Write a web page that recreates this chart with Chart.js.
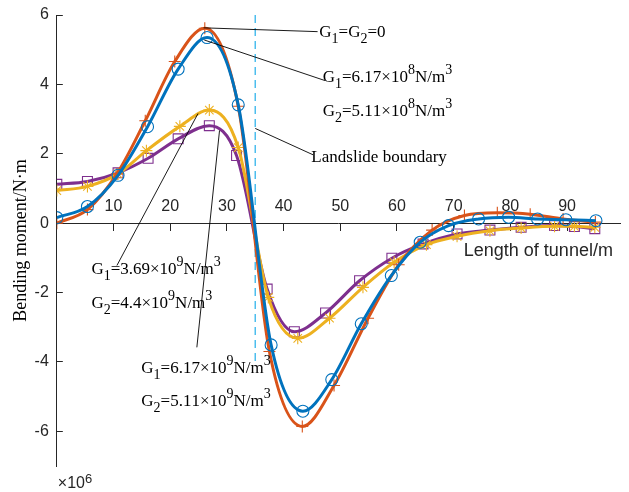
<!DOCTYPE html>
<html><head><meta charset="utf-8">
<script src="https://cdn.jsdelivr.net/npm/chart.js@4/dist/chart.umd.min.js"></script>
<style>html,body{margin:0;padding:0;background:#fff;}#wrap{width:629px;height:492px;position:relative;}</style>
</head><body><div id="wrap"><canvas id="c"></canvas></div>
<script>
// ---- data ----
const xTickValues = [10, 20, 30, 40, 50, 60, 70, 80, 90];
const yTickValues = [-6, -4, -2, 0, 2, 4, 6];

// G1=6.17e8, G2=5.11e8 (blue, circles)
const blueX = [0, 5.4, 10.8, 16.0, 21.4, 26.5, 32.0, 37.8, 43.4, 48.5, 53.7, 59.0, 64.1, 69.1, 74.4, 79.7, 84.8, 89.8, 95.1];
const blueY = [0.16, 0.48, 1.38, 2.78, 4.44, 5.35, 3.41, -3.51, -5.42, -4.51, -2.9, -1.51, -0.55, -0.07, 0.12, 0.17, 0.12, 0.10, 0.07];
// G1=G2=0 (orange, plus)
const orangeX = [0, 5.4, 10.6, 15.6, 20.8, 26.1, 32.0, 37.5, 43.3, 48.9, 54.9, 60.3, 66.2, 71.9, 77.7, 83.5, 89.3, 95.0];
const orangeY = [0.0, 0.39, 1.42, 2.95, 4.66, 5.62, 3.37, -3.7, -5.86, -4.68, -2.74, -1.2, -0.2, 0.22, 0.3, 0.26, 0.12, 0.03];
// G1=3.69e9, G2=4.4e9 (yellow, stars)
const yellowX = [0, 5.4, 10.8, 15.8, 21.7, 26.9, 32.0, 37.3, 42.5, 48.1, 54.0, 59.5, 65.2, 70.6, 76.4, 81.9, 87.8, 91.3, 94.9];
const yellowY = [0.94, 1.06, 1.42, 2.09, 2.79, 3.26, 2.18, -2.14, -3.32, -2.74, -1.85, -1.13, -0.62, -0.38, -0.22, -0.14, -0.09, -0.09, -0.12];
// G1=6.17e9, G2=5.11e9 (purple, squares)
const purpleX = [0, 5.4, 10.8, 16.1, 21.4, 26.9, 31.7, 37.1, 41.9, 47.4, 53.4, 59.1, 64.6, 70.6, 76.4, 81.9, 87.8, 91.3, 94.9];
const purpleY = [1.12, 1.2, 1.45, 1.87, 2.43, 2.81, 1.95, -1.9, -3.13, -2.59, -1.66, -1.01, -0.6, -0.31, -0.2, -0.12, -0.07, -0.1, -0.16];

// landslide boundary
const boundaryX = [35, 35];
const boundaryY = [6, -4];

// annotations: text lines (data coords of baseline start) and leader lines
const annoTexts = [
  {t: 'G_1=G_2=0', x: 46.3, y: 5.38},
  {t: 'G_1=6.17×10^8N/m^3', x: 46.9, y: 4.06},
  {t: 'G_2=5.11×10^8N/m^3', x: 46.9, y: 3.10},
  {t: 'Landslide boundary', x: 44.9, y: 1.75},
  {t: 'G_1=3.69×10^9N/m^3', x: 6.1, y: -1.46},
  {t: 'G_2=4.4×10^9N/m^3', x: 6.1, y: -2.44},
  {t: 'G_1=6.17×10^9N/m^3', x: 14.9, y: -4.31},
  {t: 'G_2=5.11×10^9N/m^3', x: 14.9, y: -5.26}
];
const annoLines = [
  [25.9, 5.63, 46.0, 5.52],
  [26.0, 5.28, 47.3, 4.11],
  [35.0, 2.73, 45.2, 1.97],
  [24.9, 3.16, 10.6, -1.22],
  [28.7, 2.67, 24.7, -3.58]
];
const xTitle = 'Length of tunnel/m';
const yTitle = 'Bending moment/N·m';

const pts = (xs, ys) => xs.map((x, i) => ({x, y: ys[i]}));
const AX = '#262626';
const SANS = '"Liberation Sans", Arial, sans-serif';
const SERIF = '"Liberation Serif", "Times New Roman", serif';

function drawRich(ctx, str, x, y) {
  let i = 0;
  while (i < str.length) {
    let ch = str[i], mode = 'n';
    if ((ch === '_' || ch === '^') && i + 1 < str.length) { mode = ch === '_' ? 'sub' : 'sup'; ch = str[i + 1]; i += 2; } else i++;
    ctx.font = mode === 'n' ? '17px ' + SERIF : '14px ' + SERIF;
    const dy = mode === 'sub' ? 6 : mode === 'sup' ? -8 : 0;
    ctx.fillText(ch, x, y + dy);
    x += ctx.measureText(ch).width;
  }
}

const annoPlugin = {
  id: 'anno',
  afterDatasetsDraw(chart) {
    const ctx = chart.ctx, sx = chart.scales.x, sy = chart.scales.y;
    const ca = chart.chartArea;
    ctx.save();
    ctx.strokeStyle = '#000';
    ctx.lineWidth = 0.9;
    annoLines.forEach(l => {
      ctx.beginPath();
      ctx.moveTo(sx.getPixelForValue(l[0]), sy.getPixelForValue(l[1]));
      ctx.lineTo(sx.getPixelForValue(l[2]), sy.getPixelForValue(l[3]));
      ctx.stroke();
    });
    ctx.fillStyle = '#000';
    ctx.textBaseline = 'alphabetic';
    ctx.textAlign = 'left';
    annoTexts.forEach(a => drawRich(ctx, a.t, sx.getPixelForValue(a.x), sy.getPixelForValue(a.y)));
    // x-axis title (right aligned, below the origin axis)
    ctx.fillStyle = AX;
    ctx.textAlign = 'right';
    ctx.font = '18px ' + SANS;
    ctx.fillText(xTitle, ca.right - 8, sy.getPixelForValue(0) + 33);
    // exponent label
    ctx.textAlign = 'left';
    ctx.font = '16px ' + SANS;
    ctx.fillText('×10', ca.left + 1, ca.bottom + 22);
    const w = ctx.measureText('×10').width;
    ctx.font = '13px ' + SANS;
    ctx.fillText('6', ca.left + 1 + w, ca.bottom + 17);
    ctx.restore();
  }
};

const mk = (label, xs, ys, color, style, r) => ({
  label, data: pts(xs, ys), borderColor: color, backgroundColor: 'transparent',
  borderWidth: 3, cubicInterpolationMode: 'monotone',
  pointStyle: style, pointRadius: r, pointBorderWidth: 1.1,
  pointBorderColor: color, pointBackgroundColor: 'transparent'
});

new Chart(document.getElementById('c'), {
  type: 'line',
  data: {
    datasets: [
      mk('G1=6.17e8 G2=5.11e8', blueX, blueY, '#0072BD', 'circle', 6),
      mk('G1=G2=0', orangeX, orangeY, '#D95319', 'cross', 6),
      mk('G1=3.69e9 G2=4.4e9', yellowX, yellowY, '#EDB120', 'star', 6),
      mk('G1=6.17e9 G2=5.11e9', purpleX, purpleY, '#7E2F8E', 'rect', 7),
      {label: 'Landslide boundary', data: pts(boundaryX, boundaryY), borderColor: '#4DBEEE',
       borderWidth: 1.5, borderDash: [8, 5], pointRadius: 0, tension: 0}
    ]
  },
  options: {
    responsive: true, maintainAspectRatio: false, animation: false, devicePixelRatio: 1,
    layout: {padding: {left: 0, right: 0, top: 15, bottom: 26}},
    plugins: {legend: {display: false}, tooltip: {enabled: false}},
    scales: {
      x: {
        type: 'linear', min: 0, max: 99.5, position: {y: 0},
        afterBuildTicks: s => { s.ticks = xTickValues.map(v => ({value: v})); },
        grid: {drawOnChartArea: false, drawTicks: true, tickLength: 7, color: AX},
        border: {color: AX, width: 1},
        ticks: {color: AX, font: {family: SANS, size: 16}, padding: -33, maxRotation: 0},
        title: {display: false}
      },
      y: {
        type: 'linear', min: -7, max: 6, position: 'left',
        afterBuildTicks: s => { s.ticks = yTickValues.map(v => ({value: v})); },
        grid: {drawOnChartArea: false, drawTicks: true, tickLength: -6, color: AX},
        border: {color: AX, width: 1},
        ticks: {color: AX, font: {family: SANS, size: 16, lineHeight: 0.1}, padding: 14},
        title: {display: true, text: yTitle, color: '#000',
                font: {family: SERIF, size: 18}, padding: {top: 10, bottom: -11}}
      }
    }
  },
  plugins: [annoPlugin]
});
</script></body></html>
